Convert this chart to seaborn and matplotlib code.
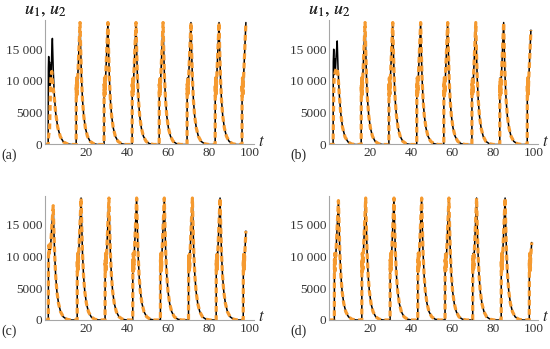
import numpy as np
import seaborn as sns
import matplotlib.pyplot as plt
from matplotlib.ticker import MultipleLocator

# one regular spike, time measured from its onset
cycle_dt = [0, 0.05, 0.15, 0.25, 0.35, 0.45, 0.55, 0.7, 1.9, 2.2, 2.6, 3.1, 3.7, 4.5, 5.5, 6.8, 8.5, 10.5]
cycle_u = [0, 9500, 7600, 10500, 7800, 10300, 8000, 10000, 19200, 15000, 10500, 7000, 4500, 2600, 1300, 500, 120, 0]

# onsets of the regular spikes and the last sample of each run
onsets_a = [15.2, 28.8, 42.5, 55.7, 69.3, 83.0, 96.1]
onsets_b = [15.7, 29.2, 42.8, 56.0, 69.7, 83.3, 96.7]
onsets_c = [15.7, 29.3, 42.8, 56.3, 70.0, 83.5, 96.7]
onsets_d = [16.0, 29.8, 43.3, 56.6, 70.1, 84.0, 97.7]
end_a = (98.0, 19200)
end_b = (98.5, 18000)
end_c = (98.0, 14000)
end_d = (98.9, 12200)

# first (transient) spike, u1 and u2
first_t_a = [0, 1.55, 1.65, 1.8, 2.0, 2.2, 2.4, 2.7, 3.0, 3.3, 3.6, 4.0, 4.5, 5.2, 6.2, 7.5, 9.0, 11.0, 13.0]
u1_first_a = [0, 0, 12000, 13850, 9500, 13000, 9300, 12500, 10500, 14500, 16700, 12000, 8000, 5000, 2700, 1200, 400, 80, 0]
u2_first_a = [0, 0, 800, 1500, 1800, 2000, 5000, 9000, 11000, 11500, 10000, 9000, 7500, 5000, 2700, 1200, 400, 80, 0]
first_t_b = [0, 2.0, 2.1, 2.3, 2.5, 2.8, 3.1, 3.5, 4.0, 4.4, 5.0, 5.7, 6.6, 7.8, 9.3, 11.0, 13.0]
u1_first_b = [0, 0, 13000, 15000, 11000, 13500, 11500, 14000, 16300, 12000, 8000, 5000, 2700, 1200, 400, 80, 0]
u2_first_b = [0, 0, 3000, 8000, 10500, 11000, 11500, 12000, 12000, 11000, 8000, 5000, 2700, 1200, 400, 80, 0]
first_t_c = [0, 1.6, 1.7, 1.9, 2.1, 2.3, 2.6, 4.0, 4.3, 4.7, 5.2, 5.8, 6.6, 7.6, 8.9, 10.6, 12.6]
u_first_c = [0, 0, 10000, 11800, 10500, 11800, 11000, 18000, 14500, 10500, 7000, 4500, 2600, 1300, 500, 120, 0]
first_t_d = [0, 2.6, 2.65, 2.75, 2.85, 2.95, 3.05, 3.3, 4.6, 4.9, 5.3, 5.8, 6.4, 7.2, 8.2, 9.5, 11.2, 13.2]
u_first_d = [0, 0, 9500, 7600, 10500, 7800, 10300, 10000, 18800, 15000, 10500, 7000, 4500, 2600, 1300, 500, 120, 0]

panel_tags = ["(a)", "(b)", "(c)", "(d)"]
ytick_vals = [0, 5000, 10000, 15000]
ytick_text = ["0", "5000", "10 000", "15 000"]
xtick_vals = [20, 40, 60, 80, 100]


def build(first_t, first_u, onsets, end):
    t = list(first_t)
    u = list(first_u)
    for t0 in onsets:
        for dt, v in zip(cycle_dt, cycle_u):
            if t0 + dt < end[0]:
                t.append(t0 + dt)
                u.append(v)
    t.append(end[0])
    u.append(end[1])
    return np.array(t), np.array(u)


panels = [
    (build(first_t_a, u1_first_a, onsets_a, end_a), build(first_t_a, u2_first_a, onsets_a, end_a)),
    (build(first_t_b, u1_first_b, onsets_b, end_b), build(first_t_b, u2_first_b, onsets_b, end_b)),
    (build(first_t_c, u_first_c, onsets_c, end_c), build(first_t_c, u_first_c, onsets_c, end_c)),
    (build(first_t_d, u_first_d, onsets_d, end_d), build(first_t_d, u_first_d, onsets_d, end_d)),
]

sns.set_style("white")
plt.rcParams["font.family"] = ["Liberation Serif", "DejaVu Serif"]
plt.rcParams["mathtext.fontset"] = "stix"

W, H = 550, 349
fig = plt.figure(figsize=(W / 100, H / 100), dpi=100)

# pixel positions of each panel: y-axis x, baseline y
origins = [(45, 144.5), (329, 144.5), (45, 320), (329, 320)]
px_per_t = 2.05
xmax = 102
ymax = 19600
ax_h = 124.5

for idx, ((x0, y0), (s1, s2)) in enumerate(zip(origins, panels)):
    ax = fig.add_axes([x0 / W, (H - y0) / H, xmax * px_per_t / W, ax_h / H])
    sns.lineplot(x=s1[0], y=s1[1], ax=ax, color="black", lw=1.1, sort=False, estimator=None)
    sns.lineplot(x=s2[0], y=s2[1], ax=ax, color="#f59a30", lw=2.3, sort=False, estimator=None,
                 linestyle=(0, (1.8, 1.1)))
    ax.set_xlim(0, xmax)
    ax.set_ylim(0, ymax)
    ax.set_xlabel("")
    ax.set_ylabel("")
    for side in ["top", "right"]:
        ax.spines[side].set_visible(False)
    for side in ["left", "bottom"]:
        ax.spines[side].set_color("#a6a6a6")
        ax.spines[side].set_linewidth(0.8)
    ax.set_xticks(xtick_vals)
    ax.set_yticks(ytick_vals)
    ax.set_yticklabels(ytick_text)
    ax.xaxis.set_minor_locator(MultipleLocator(5))
    ax.yaxis.set_minor_locator(MultipleLocator(1000))
    ax.tick_params(which="major", direction="in", length=3.5, width=0.6, color="#a6a6a6",
                   labelsize=9.5, pad=2, labelcolor="#333333")
    ax.tick_params(which="minor", direction="in", length=2, width=0.5, color="#c0c0c0")
    ax.patch.set_alpha(0)

    fig.text(x0 / W, 1 - 10 / H, r"$u_1,\,u_2$", ha="center", va="center", fontsize=13)
    fig.text((x0 + 216) / W, 1 - (y0 - 3) / H, r"$t$", ha="center", va="center", fontsize=12)
    tag_x = 1 if x0 < 100 else 290
    fig.text(tag_x / W, 1 - (y0 + 11) / H, panel_tags[idx], ha="left", va="center", fontsize=10)

plt.savefig("out.png", dpi=100)
